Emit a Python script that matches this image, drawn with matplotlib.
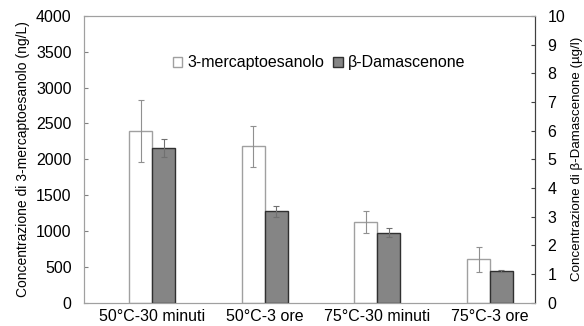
import matplotlib
matplotlib.use('Agg')
import matplotlib.pyplot as plt
import numpy as np

plt.rcParams['font.family'] = ['Liberation Sans', 'DejaVu Sans']

categories = ['50°C-30 minuti', '50°C-3 ore', '75°C-30 minuti', '75°C-3 ore']
mercapto = [2390, 2180, 1127, 606]          # ng/L
mercapto_err = [435, 285, 155, 176]
damascenone = [5.39, 3.18, 2.44, 1.10]      # ug/l
damascenone_err = [0.30, 0.20, 0.17, 0.04]

fig = plt.figure(figsize=(5.84, 3.26), dpi=100)
ax1 = fig.add_axes([0.144, 0.072, 0.772, 0.879])
ax2 = ax1.twinx()

x = np.arange(len(categories))
w = 0.204

ax1.bar(x - w / 2, mercapto, w, color='white', edgecolor='#a0a0a0', linewidth=1.0,
        yerr=mercapto_err, ecolor='#909090', capsize=2,
        error_kw={'elinewidth': 0.8, 'capthick': 0.8}, label='3-mercaptoesanolo',
        zorder=2)
ax2.bar(x + w / 2, damascenone, w, color='#858585', edgecolor='#303030', linewidth=1.0,
        yerr=damascenone_err, ecolor='#707070', capsize=2,
        error_kw={'elinewidth': 0.8, 'capthick': 0.8}, label='β-Damascenone',
        zorder=2)

ax1.set_xlim(-0.603, 3.399)
ax1.set_ylim(0, 4000)
ax1.set_yticks(np.arange(0, 4001, 500))
ax2.set_ylim(0, 10)
ax2.set_yticks(np.arange(0, 11, 1))

ax1.set_xticks(x)
ax1.set_xticklabels(categories)
ax1.tick_params(axis='x', length=0, labelsize=11.5, pad=5)
ax1.tick_params(axis='y', direction='in', length=3, color='#808080',
                labelsize=11.5, pad=9)
ax2.tick_params(axis='y', direction='in', length=3, color='#404040',
                labelsize=11.5, pad=9)

for s in ['left', 'top', 'bottom']:
    ax1.spines[s].set_color('#a0a0a0')
    ax2.spines[s].set_color('#a0a0a0')
ax2.spines['right'].set_color('#404040')
ax1.spines['right'].set_color('#404040')

ax1.set_ylabel('Concentrazione di 3-mercaptoesanolo (ng/L)', fontsize=10, labelpad=4)
ax2.set_ylabel('Concentrazione di β-Damascenone (µg/l)', fontsize=9.6, labelpad=4)

h1, l1 = ax1.get_legend_handles_labels()
h2, l2 = ax2.get_legend_handles_labels()
ax1.legend(h1 + h2, l1 + l2, loc='center', bbox_to_anchor=(0.521, 0.836),
           ncol=2, frameon=False, fontsize=11.5, handlelength=0.6,
           handleheight=0.6, handletextpad=0.3, columnspacing=0.6)

fig.savefig('out.png', dpi=100)
